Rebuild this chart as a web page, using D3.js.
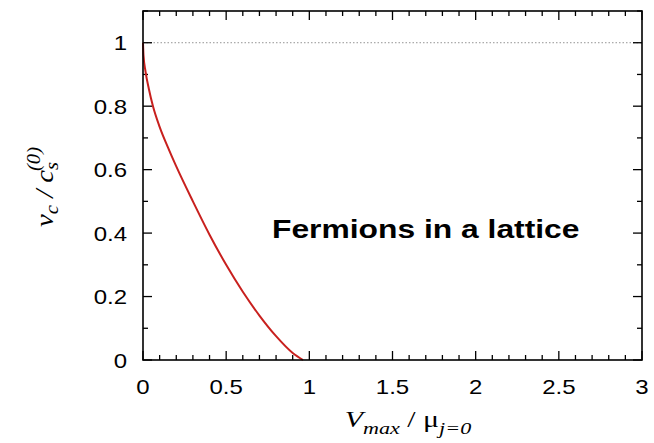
<!DOCTYPE html>
<html>
<head>
<meta charset="utf-8">
<script src="https://cdn.jsdelivr.net/npm/d3@7"></script>
<style>
  html, body { margin: 0; padding: 0; background: #fff; }
  svg { display: block; }
</style>
</head>
<body>
<svg id="chart" width="654" height="443"></svg>
<script>
// Critical velocity v_c / c_s^(0) versus lattice depth V_max / mu_{j=0}
const vMax = [0, 0.003, 0.015, 0.035, 0.06, 0.1, 0.15, 0.2, 0.3, 0.4, 0.5, 0.6, 0.7, 0.8, 0.9, 0.962];
const vCrit = [1, 0.96, 0.91, 0.855, 0.8, 0.735, 0.67, 0.61, 0.5, 0.395, 0.30, 0.215, 0.14, 0.075, 0.022, 0];
const xTicks = [0, 0.5, 1, 1.5, 2, 2.5, 3];
const xTickLabels = ["0", "0.5", "1", "1.5", "2", "2.5", "3"];
const yTicks = [0, 0.2, 0.4, 0.6, 0.8, 1];
const yTickLabels = ["0", "0.2", "0.4", "0.6", "0.8", "1"];
const soundSpeedLevel = [1];
const annotation = "Fermions in a lattice";

const svg = d3.select("#chart");
const L = 143, R = 642, T = 11, B = 360;
const SX = 1.2; // horizontal widening of the lettering

const x = d3.scaleLinear().domain([0, 3]).range([L, R]);
const y = d3.scaleLinear().domain([0, 1.1]).range([B, T]);

const tickFont = "'Liberation Sans', Arial, sans-serif";
const serif = "'Liberation Serif', 'Times New Roman', serif";

// reference level at v_c = c_s^(0)
svg.selectAll("line.ref").data(soundSpeedLevel).join("line")
  .attr("class", "ref")
  .attr("x1", x(0)).attr("x2", x(3))
  .attr("y1", d => y(d)).attr("y2", d => y(d))
  .attr("stroke", "#777").attr("stroke-width", 0.8)
  .attr("stroke-dasharray", "1.5,2");

// inward ticks on all four sides
const minorX = d3.range(0, 3.0001, 0.1).map(v => +v.toFixed(2));
const minorY = d3.range(0, 1.1001, 0.1).map(v => +v.toFixed(2));
const isMajor = (v, arr) => arr.some(t => Math.abs(t - v) < 1e-6);
const majorLen = 9, minorLen = 5;

const gTicks = svg.append("g").attr("stroke", "#000").attr("stroke-width", 1.3);
minorX.forEach(v => {
  const len = isMajor(v, xTicks) ? majorLen : minorLen;
  gTicks.append("line").attr("x1", x(v)).attr("x2", x(v)).attr("y1", B).attr("y2", B - len);
  gTicks.append("line").attr("x1", x(v)).attr("x2", x(v)).attr("y1", T).attr("y2", T + len);
});
minorY.forEach(v => {
  const len = isMajor(v, yTicks) ? majorLen : minorLen;
  gTicks.append("line").attr("x1", L).attr("x2", L + len).attr("y1", y(v)).attr("y2", y(v));
  gTicks.append("line").attr("x1", R).attr("x2", R - len).attr("y1", y(v)).attr("y2", y(v));
});

// curve
const line = d3.line()
  .x(d => x(d[0]))
  .y(d => y(d[1]))
  .curve(d3.curveMonotoneX);
svg.append("path")
  .datum(vMax.map((v, i) => [v, vCrit[i]]))
  .attr("d", line)
  .attr("fill", "none")
  .attr("stroke", "#c8201e")
  .attr("stroke-width", 2);

// frame
svg.append("rect")
  .attr("x", L).attr("y", T).attr("width", R - L).attr("height", B - T)
  .attr("fill", "none").attr("stroke", "#000").attr("stroke-width", 1.6);

// tick labels
svg.append("g").selectAll("text").data(xTicks).join("text")
  .attr("transform", d => `translate(${x(d)},394) scale(${SX},1)`)
  .attr("text-anchor", "middle")
  .attr("font-family", tickFont).attr("font-size", 20)
  .text((d, i) => xTickLabels[i]);

svg.append("g").selectAll("text").data(yTicks).join("text")
  .attr("transform", d => `translate(127,${y(d) + 7.5}) scale(${SX},1)`)
  .attr("text-anchor", "end")
  .attr("font-family", tickFont).attr("font-size", 20)
  .text((d, i) => yTickLabels[i]);

// annotation
svg.append("text")
  .attr("transform", `translate(272,238) scale(${SX},1)`)
  .attr("font-family", tickFont).attr("font-weight", "bold").attr("font-size", 26.5)
  .text(annotation);

// x axis title: V_max / mu_{j=0}
const xt = svg.append("text")
  .attr("transform", `translate(408,427) scale(1.3,1)`)
  .attr("text-anchor", "middle")
  .attr("font-family", serif).attr("font-size", 23);
xt.append("tspan").attr("font-style", "italic").text("V");
xt.append("tspan").attr("font-style", "italic").attr("font-size", 17).attr("dy", 7).text("max");
xt.append("tspan").attr("dy", -7).text(" / ");
xt.append("tspan").text("μ");
xt.append("tspan").attr("font-style", "italic").attr("font-size", 17).attr("dy", 7).text("j=0");

// y axis title: v_c / c_s^(0)
const yt = svg.append("text")
  .attr("transform", "translate(53,187) rotate(-90) scale(1.15,1)")
  .attr("text-anchor", "middle")
  .attr("font-family", serif).attr("font-size", 25).attr("font-style", "italic");
yt.append("tspan").text("v");
yt.append("tspan").attr("font-size", 18).attr("dy", 5).text("c");
yt.append("tspan").attr("dy", -5).text(" / c");
yt.append("tspan").attr("font-size", 18).attr("dy", 5).text("s");
yt.append("tspan").attr("font-size", 18).attr("dy", -18).attr("dx", -8).text("(0)");
</script>
</body>
</html>
